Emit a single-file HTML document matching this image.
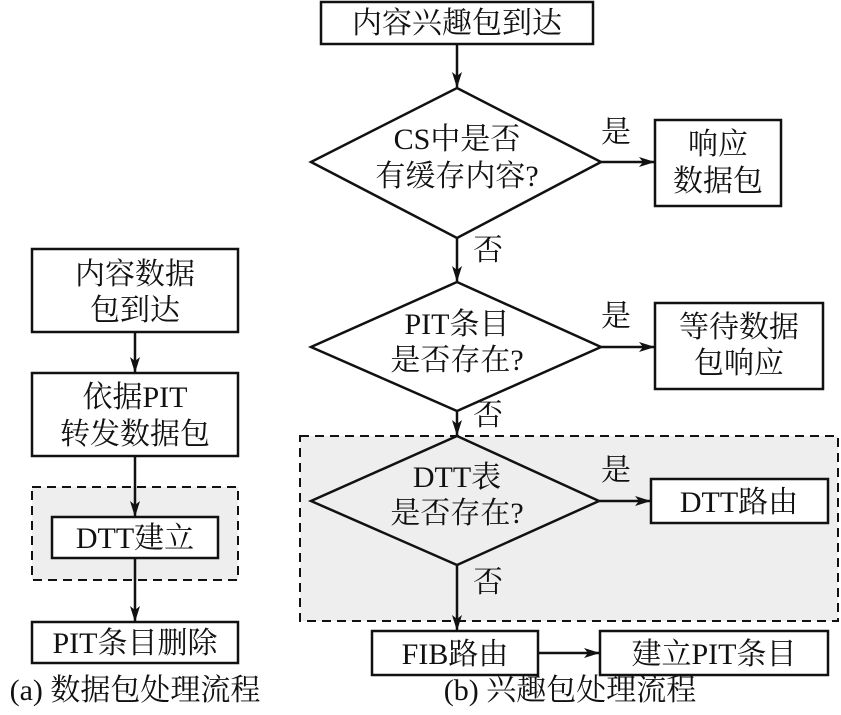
<!DOCTYPE html>
<html><head><meta charset="utf-8"><style>
body{margin:0;background:#fff;}
text{font-family:"Liberation Serif","Noto Serif CJK SC","Noto Sans CJK SC",serif;font-size:30px;fill:#111;text-anchor:middle;}
</style></head><body>
<svg width="841" height="710" viewBox="0 0 841 710" xmlns="http://www.w3.org/2000/svg">
<defs><marker id="a" markerWidth="16" markerHeight="10" refX="15" refY="5" orient="auto" markerUnits="userSpaceOnUse"><path d="M0,0 L16,5 L0,10 L4,5 Z" fill="#111"/></marker></defs>
<g stroke="#111" stroke-width="2.5" fill="none">
<rect x="32" y="487" width="206" height="93" fill="#eeeeee" stroke-dasharray="9,6" stroke-width="2"/>
<rect x="32" y="249" width="206" height="83" fill="#fff"/>
<rect x="32" y="373" width="206" height="83" fill="#fff"/>
<rect x="52" y="517" width="166" height="41" fill="#fff"/>
<rect x="32" y="622" width="206" height="41" fill="#fff"/>
<line x1="135" y1="332" x2="135" y2="372" marker-end="url(#a)"/>
<line x1="135" y1="456" x2="135" y2="516" marker-end="url(#a)"/>
<line x1="135" y1="558" x2="135" y2="621" marker-end="url(#a)"/>
<rect x="300" y="436" width="538" height="185" fill="#eeeeee" stroke-dasharray="9,6" stroke-width="2"/>
<rect x="321" y="2" width="272" height="42" fill="#fff"/>
<polygon points="457,88 601,162 457,238 311,162" fill="#fff"/>
<polygon points="457,282 601,347 457,411 311,347" fill="#fff"/>
<polygon points="457,436 599,501 457,565 311,501"/>
<rect x="655" y="120" width="126" height="86" fill="#fff"/>
<rect x="655" y="303" width="168" height="86" fill="#fff"/>
<rect x="651" y="479" width="177" height="44" fill="#fff"/>
<rect x="372" y="631" width="166" height="44" fill="#fff"/>
<rect x="600" y="631" width="228" height="44" fill="#fff"/>
<line x1="457" y1="44" x2="457" y2="87" marker-end="url(#a)"/>
<line x1="457" y1="238" x2="457" y2="281" marker-end="url(#a)"/>
<line x1="457" y1="411" x2="457" y2="435" marker-end="url(#a)"/>
<line x1="457" y1="565" x2="457" y2="630" marker-end="url(#a)"/>
<line x1="601" y1="162" x2="654" y2="162" marker-end="url(#a)"/>
<line x1="601" y1="347" x2="654" y2="347" marker-end="url(#a)"/>
<line x1="599" y1="501" x2="650" y2="501" marker-end="url(#a)"/>
<line x1="538" y1="653" x2="599" y2="653" marker-end="url(#a)"/>
</g>
<g font-family="Liberation Serif, Noto Serif CJK SC, serif">
<text x="135" y="284">内容数据</text>
<text x="135" y="320">包到达</text>
<text x="135" y="407">依据PIT</text>
<text x="135" y="444">转发数据包</text>
<text x="135" y="548">DTT建立</text>
<text x="135" y="653">PIT条目删除</text>
<text x="135" y="700">(a) 数据包处理流程</text>
<text x="457" y="33">内容兴趣包到达</text>
<text x="457" y="149">CS中是否</text>
<text x="457" y="186">有缓存内容?</text>
<text x="718" y="154">响应</text>
<text x="718" y="191">数据包</text>
<text x="616" y="142">是</text>
<text x="488" y="260">否</text>
<text x="457" y="334">PIT条目</text>
<text x="457" y="370">是否存在?</text>
<text x="739" y="337">等待数据</text>
<text x="739" y="373">包响应</text>
<text x="616" y="326">是</text>
<text x="488" y="425">否</text>
<text x="457" y="487">DTT表</text>
<text x="457" y="523">是否存在?</text>
<text x="616" y="480">是</text>
<text x="739" y="512">DTT路由</text>
<text x="488" y="592">否</text>
<text x="455" y="664">FIB路由</text>
<text x="714" y="664">建立PIT条目</text>
<text x="570" y="700">(b) 兴趣包处理流程</text>
</g>
</svg>
</body></html>
